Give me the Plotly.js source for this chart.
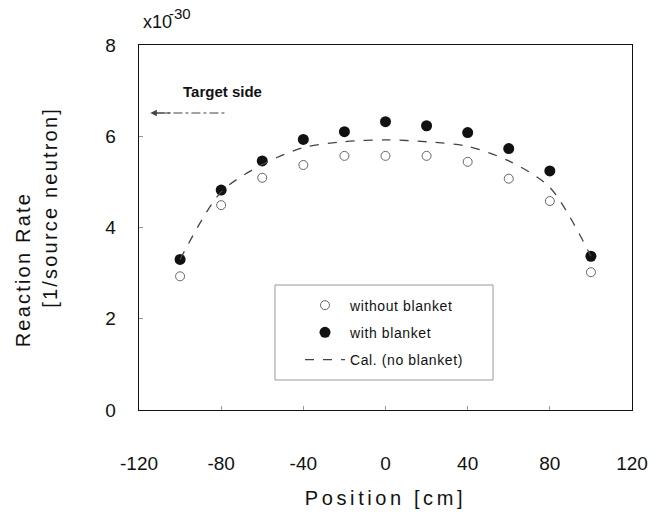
<!DOCTYPE html>
<html>
<head>
<meta charset="utf-8">
<script src="https://cdn.plot.ly/plotly-3.0.1.min.js"></script>
<style>
  html, body { margin: 0; padding: 0; background: #fff; }
  #chart { width: 658px; height: 512px; }
  .xtitle { letter-spacing: 3.6px; }
  g.annotation[data-index="0"] text, g.annotation[data-index="1"] text { letter-spacing: 2.2px; }
  .legendtext { letter-spacing: 0.6px; }
</style>
</head>
<body>
<div id="chart"></div>
<script>
// Data (values x1e-30)
var positions = [-100, -80, -60, -40, -20, 0, 20, 40, 60, 80, 100];
var withoutBlanket = [2.93, 4.49, 5.09, 5.37, 5.57, 5.57, 5.57, 5.44, 5.07, 4.58, 3.02];
var withBlanket = [3.30, 4.82, 5.46, 5.93, 6.10, 6.32, 6.23, 6.08, 5.73, 5.24, 3.37];
var calNoBlanket = [3.30, 4.78, 5.38, 5.75, 5.88, 5.92, 5.88, 5.78, 5.46, 4.88, 3.37];
var xTicks = [-120, -80, -40, 0, 40, 80, 120];
var yTicks = [0, 2, 4, 6, 8];

var narrow = '"Liberation Sans Narrow", "Liberation Sans", Arial, sans-serif';
var tickFont = {family: narrow, size: 19, color: '#111'};

var traces = [
  {
    x: positions, y: withoutBlanket, type: 'scatter', mode: 'markers',
    name: 'without blanket', legendgroup: 'a',
    marker: {symbol: 'circle-open', size: 9, color: '#666', line: {width: 1, color: '#666'}}
  },
  {
    x: positions, y: withBlanket, type: 'scatter', mode: 'markers',
    name: 'with blanket', legendgroup: 'b',
    marker: {symbol: 'circle', size: 11, color: '#111'}
  },
  {
    x: positions, y: calNoBlanket, type: 'scatter', mode: 'lines',
    name: 'Cal. (no blanket)', legendgroup: 'c',
    line: {shape: 'spline', smoothing: 0.8, dash: 'dash', width: 1.3, color: '#444'}
  }
];

function px2x(px) { return (px - 139) / 493; }
function py2y(py) { return (410 - py) / 365; }

var layout = {
  width: 658, height: 512,
  margin: {l: 139, r: 26, t: 45, b: 102},
  paper_bgcolor: '#fff', plot_bgcolor: '#fff',
  font: {family: '"Liberation Sans", Arial, sans-serif', color: '#111'},
  showlegend: true,
  legend: {
    x: 0.3266, y: 0.33, xanchor: 'left', yanchor: 'top',
    bgcolor: 'rgba(0,0,0,0)', borderwidth: 0, itemwidth: 40,
    font: {family: '"Liberation Sans", Arial, sans-serif', size: 14, color: '#111'},
    tracegroupgap: 6
  },
  xaxis: {
    range: [-120, 120], tickvals: xTicks, ticktext: xTicks.map(String),
    showgrid: false, zeroline: false,
    showline: true, linecolor: '#111', linewidth: 1.3, mirror: true,
    ticks: 'inside', ticklen: 4, tickcolor: '#999',
    tickfont: tickFont, ticklabelstandoff: 36,
    title: {text: 'Position [cm]', font: {size: 20, color: '#111'}, standoff: 18}
  },
  yaxis: {
    range: [0, 8], tickvals: yTicks, ticktext: yTicks.map(String),
    showgrid: false, zeroline: false,
    showline: true, linecolor: '#111', linewidth: 1.3, mirror: true,
    ticks: 'inside', ticklen: 4, tickcolor: '#999',
    tickfont: tickFont, ticklabelstandoff: 18
  },
  shapes: [
    {type: 'rect', xref: 'paper', yref: 'paper',
     x0: px2x(275), x1: px2x(493), y0: py2y(380), y1: py2y(285),
     line: {color: '#999', width: 1}},
    {type: 'line', xref: 'x', yref: 'y', x0: -112, x1: -77, y0: 6.51, y1: 6.51,
     line: {color: '#444', width: 1.2, dash: 'dashdot'}}
  ],
  annotations: [
    {xref: 'paper', yref: 'paper', x: px2x(23), y: py2y(270), xanchor: 'center', yanchor: 'middle',
     textangle: -90, text: 'Reaction Rate', showarrow: false,
     font: {family: '"Liberation Sans", Arial, sans-serif', size: 20, color: '#111'}},
    {xref: 'paper', yref: 'paper', x: px2x(50), y: py2y(208), xanchor: 'center', yanchor: 'middle',
     textangle: -90, text: '[1/source neutron]', showarrow: false,
     font: {family: '"Liberation Sans", Arial, sans-serif', size: 20, color: '#111'}},
    {xref: 'paper', yref: 'paper', x: px2x(141), y: py2y(34), xanchor: 'left', yanchor: 'bottom',
     text: 'x10', showarrow: false,
     font: {family: narrow, size: 18, color: '#111'}},
    {xref: 'paper', yref: 'paper', x: px2x(167), y: py2y(24), xanchor: 'left', yanchor: 'bottom',
     text: '-30', showarrow: false,
     font: {family: narrow, size: 15, color: '#111'}},
    {xref: 'x', yref: 'y', x: -79.5, y: 6.97, text: '<b>Target side</b>', showarrow: false,
     font: {family: narrow, size: 15, color: '#111'}},
    {xref: 'x', yref: 'y', x: -114.5, y: 6.51, axref: 'x', ayref: 'y', ax: -104, ay: 6.51,
     text: '', showarrow: true, arrowhead: 2, arrowsize: 1.1, arrowwidth: 1.2, arrowcolor: '#444'}
  ]
};

Plotly.newPlot('chart', traces, layout, {displayModeBar: false, staticPlot: true});
</script>
</body>
</html>
